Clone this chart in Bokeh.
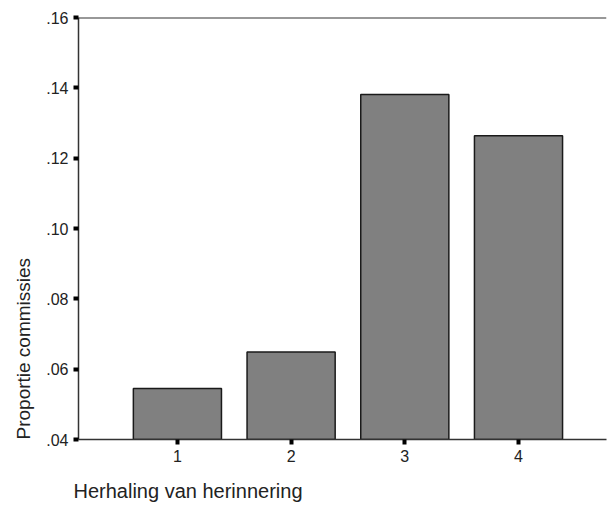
from bokeh.plotting import figure
from bokeh.models import FixedTicker, Span, Range1d, Title
from bokeh.embed import file_html
from bokeh.resources import INLINE

# data
categories = [1, 2, 3, 4]
category_labels = ["1", "2", "3", "4"]
proportions = [0.0545, 0.0649, 0.1381, 0.1264]
y_ticks = [0.04, 0.06, 0.08, 0.10, 0.12, 0.14, 0.16]
y_tick_labels = [".04", ".06", ".08", ".10", ".12", ".14", ".16"]
x_title = "Herhaling van herinnering"
y_title = "Proportie commissies"

FONT = "Liberation Sans"
TXT = "#222222"

p = figure(width=608, height=515, output_backend="svg", toolbar_location=None,
           x_range=Range1d(0.13, 4.774), y_range=Range1d(0.04, 0.16),
           min_border_left=78, min_border_right=2, min_border_top=17, min_border_bottom=76)
p.outline_line_color = None
p.grid.visible = False
p.background_fill_color = "white"
p.border_fill_color = "white"

p.vbar(x=categories, top=proportions, bottom=y_ticks[0], width=0.775,
       fill_color="#808080", line_color="#1a1a1a", line_width=1.5)

for ax in (p.xaxis[0], p.yaxis[0]):
    ax.axis_line_color = "#333333"
    ax.axis_line_width = 1.5
    ax.major_tick_line_color = "black"
    ax.major_tick_line_width = 4
    ax.major_tick_out = 5
    ax.major_tick_in = 0
    ax.minor_tick_line_color = None
    ax.major_label_text_font = FONT
    ax.major_label_text_font_size = "16px"
    ax.major_label_text_color = TXT
    ax.major_label_standoff = 5

p.yaxis.ticker = FixedTicker(ticks=y_ticks)
p.yaxis.major_label_overrides = dict(zip(y_ticks, y_tick_labels))
p.xaxis.ticker = FixedTicker(ticks=categories)
p.xaxis.major_label_overrides = dict(zip(categories, category_labels))

p.add_layout(Span(location=y_ticks[-1], dimension="width", line_color="#333333", line_width=2))

p.add_layout(Title(text=x_title, align="left", offset=-5, standoff=26,
                   text_font=FONT, text_font_size="20px", text_font_style="normal",
                   text_color=TXT), "below")
p.add_layout(Title(text=y_title, align="left", offset=0, standoff=20,
                   text_font=FONT, text_font_size="19px", text_font_style="normal",
                   text_color=TXT), "left")

open("out.html", "w").write(file_html(p, INLINE))
